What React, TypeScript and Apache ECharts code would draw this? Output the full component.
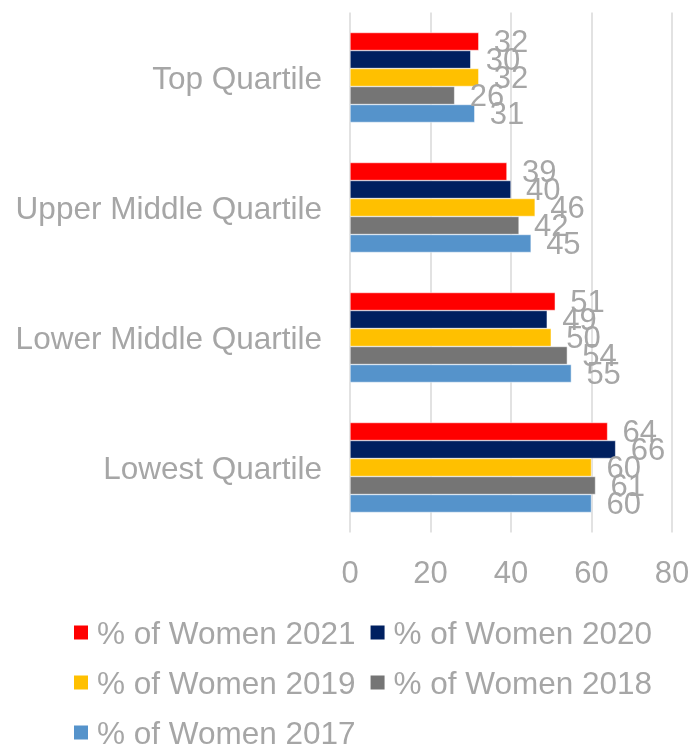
import React, { useEffect, useRef } from "react";
import * as echarts from "echarts";

const categories = ["Top Quartile", "Upper Middle Quartile", "Lower Middle Quartile", "Lowest Quartile"];
const seriesNames = ["% of Women 2021", "% of Women 2020", "% of Women 2019", "% of Women 2018", "% of Women 2017"];
const women2021 = [32, 39, 51, 64];
const women2020 = [30, 40, 49, 66];
const women2019 = [32, 46, 50, 60];
const women2018 = [26, 42, 54, 61];
const women2017 = [31, 45, 55, 60];
const colors = ["#FF0000", "#002060", "#FFC000", "#757575", "#5593CB"];
const xTicks = [0, 20, 40, 60, 80];

const TEXT = "#A6A6A6";
const FONT = "'Liberation Sans', Arial, sans-serif";

export default function App() {
  const ref = useRef<HTMLDivElement>(null);
  useEffect(() => {
    if (!ref.current) return;
    const chart = echarts.init(ref.current, null, { renderer: "svg" });
    const values = [women2021, women2020, women2019, women2018, women2017];
    chart.setOption({
      animation: false,
      textStyle: { fontFamily: FONT },
      grid: { left: 350, right: 21, top: 12.5, bottom: 213.5, containLabel: false },
      xAxis: {
        type: "value",
        min: xTicks[0],
        max: xTicks[xTicks.length - 1],
        interval: 20,
        axisLine: { show: false },
        axisTick: { show: false },
        splitLine: { show: true, lineStyle: { color: "#D9D9D9", width: 1.5 } },
        axisLabel: { color: TEXT, fontSize: 31, fontFamily: FONT, margin: 24 },
      },
      yAxis: {
        type: "category",
        inverse: true,
        data: categories,
        axisLine: { show: false },
        axisTick: { show: false },
        axisLabel: { color: TEXT, fontSize: 31.5, fontFamily: FONT, margin: 28 },
      },
      legend: {
        left: 72,
        top: 614,
        width: 600,
        padding: 0,
        itemWidth: 16,
        itemHeight: 16,
        itemGap: 13,
        icon: "rect",
        textStyle: { color: TEXT, fontSize: 31.5, fontFamily: FONT, lineHeight: 37, padding: [0, 0, 0, 3] },
        data: seriesNames,
      },
      series: seriesNames.map((name, i) => ({
        name,
        type: "bar",
        data: values[i],
        itemStyle: { color: colors[i], borderColor: "#FFFFFF", borderWidth: 0.5 },
        barGap: "0%",
        barCategoryGap: "30.8%",
        label: {
          show: true,
          position: "right",
          distance: 15,
          color: TEXT,
          fontSize: 31,
          fontFamily: FONT,
        },
      })),
    });
    return () => chart.dispose();
  }, []);
  return <div ref={ref} style={{ position: "fixed", left: 0, top: 0, width: 693, height: 746 }} />;
}
